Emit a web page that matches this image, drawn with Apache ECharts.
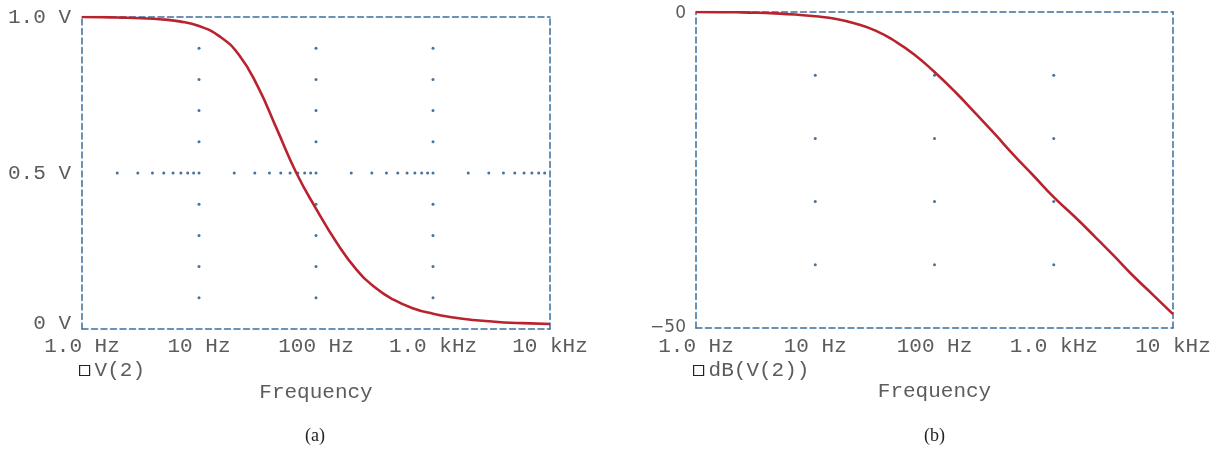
<!DOCTYPE html>
<html>
<head>
<meta charset="utf-8">
<script src="https://cdn.jsdelivr.net/npm/echarts@6/dist/echarts.min.js"></script>
<style>
html,body{margin:0;padding:0;background:#fff;}
#chart{width:1225px;height:452px;}
</style>
</head>
<body>
<div id="chart"></div>
<script>
// ---- data ----
const freqHz = [1, 1.5, 2.2, 3.2, 4.6, 6.8, 10, 15, 22, 32, 46, 68, 100, 150, 220, 320, 460, 680, 1000, 1500, 2200, 3200, 4600, 6800, 10000];
const vMag   = [1.0, 0.9995, 0.998, 0.996, 0.993, 0.986, 0.971, 0.938, 0.878, 0.775, 0.643, 0.50, 0.386, 0.277, 0.192, 0.133, 0.094, 0.066, 0.049, 0.037, 0.029, 0.024, 0.020, 0.018, 0.016];
const vDb    = [0, -0.02, -0.05, -0.11, -0.22, -0.4, -0.68, -1.1, -1.85, -2.95, -4.55, -6.75, -9.5, -12.7, -16.0, -19.3, -22.6, -25.95, -29.3, -32.4, -35.5, -38.6, -41.7, -44.75, -47.8];

const xDecades     = [1, 10, 100, 1000, 10000];
const xTickLabels  = ['1.0 Hz', '10 Hz', '100 Hz', '1.0 kHz', '10 kHz'];
const innerDecades = [10, 100, 1000];
const minorMults   = [2, 3, 4, 5, 6, 7, 8, 9];

const leftYTicks      = [0, 0.5, 1.0];
const leftYTickLabels = ['0 V', '0.5 V', '1.0 V'];
const leftDotRows     = [0.1, 0.2, 0.3, 0.4, 0.5, 0.6, 0.7, 0.8, 0.9];
const leftMinorRow    = 0.5;

const rightYTicks      = [-50, 0];
const rightYTickLabels = ['\u221250', '0'];
const rightDotRows     = [-10, -20, -30, -40];

const seriesNames = ['V(2)', 'dB(V(2))'];
const captions    = ['(a)', '(b)'];
const xAxisTitle  = 'Frequency';

// ---- styles ----
const MONO = "'Courier New', 'Liberation Mono', monospace";
const SANS = "'DejaVu Sans', sans-serif";
const frameColor = '#3d6f9b';
const dotColor = '#1a4f80';
const curveColor = '#b8232e';
const textColor = '#5c5c5c';
const frameLine = { show: true, onZero: false, lineStyle: { color: frameColor, width: 1.5, type: [6, 3.5] } };

// build data pairs
const magData = freqHz.map((f, i) => [f, vMag[i]]);
const dbData  = freqHz.map((f, i) => [f, vDb[i]]);

const leftDots = [];
innerDecades.forEach(d => leftDotRows.forEach(r => leftDots.push([d, r])));
xDecades.slice(0, 4).forEach(d => minorMults.forEach(k => leftDots.push([d * k, leftMinorRow])));
const rightDots = [];
innerDecades.forEach(d => rightDotRows.forEach(r => rightDots.push([d, r])));

function xLabel(v) {
  const i = xDecades.findIndex(d => Math.abs(d - v) < 1e-6 * d);
  return i >= 0 ? xTickLabels[i] : '';
}

const chart = echarts.init(document.getElementById('chart'), null, { renderer: 'canvas' });

const xAxisBase = (grid, margin) => ({
  type: 'log', logBase: 10, min: 1, max: 10000, gridIndex: grid,
  axisLine: frameLine,
  axisTick: { show: false },
  splitLine: { show: false },
  minorTick: { show: false },
  axisLabel: { formatter: xLabel, fontFamily: MONO, fontSize: 21, color: textColor, margin: margin, showMinLabel: true, showMaxLabel: true },
  name: xAxisTitle, nameLocation: 'middle', nameGap: 53,
  nameTextStyle: { fontFamily: MONO, fontSize: 21, color: textColor }
});

const topAxis = (grid) => ({
  type: 'value', min: 0, max: 1, gridIndex: grid, position: 'top',
  axisLine: frameLine, axisTick: { show: false }, axisLabel: { show: false }, splitLine: { show: false }
});
const rightAxis = (grid) => ({
  type: 'value', min: 0, max: 1, gridIndex: grid, position: 'right',
  axisLine: frameLine, axisTick: { show: false }, axisLabel: { show: false }, splitLine: { show: false }
});

const option = {
  backgroundColor: '#fff',
  animation: false,
  grid: [
    { left: 82, top: 17, width: 468, height: 312 },
    { left: 696, top: 12, width: 477, height: 316 }
  ],
  xAxis: [
    xAxisBase(0, 7),
    xAxisBase(1, 8),
    topAxis(0),
    topAxis(1)
  ],
  yAxis: [
    {
      type: 'value', gridIndex: 0, min: leftYTicks[0], max: leftYTicks[2], interval: 0.5,
      axisLine: frameLine, axisTick: { show: false }, splitLine: { show: false },
      axisLabel: {
        fontFamily: MONO, fontSize: 21, color: textColor, margin: 11,
        formatter: v => {
          const i = leftYTicks.findIndex(t => Math.abs(t - v) < 1e-9);
          const s = i >= 0 ? leftYTickLabels[i] : '';
          return v === 0 ? '{low|' + s + '}' : s;
        },
        rich: { low: { fontFamily: MONO, fontSize: 21, color: textColor, padding: [0, 0, 12, 0] } }
      }
    },
    {
      type: 'value', gridIndex: 1, min: -50, max: 0, interval: 50,
      axisLine: frameLine, axisTick: { show: false }, splitLine: { show: false },
      axisLabel: {
        fontFamily: SANS, fontSize: 17, color: textColor, margin: 10,
        formatter: v => {
          const i = rightYTicks.findIndex(t => Math.abs(t - v) < 1e-9);
          const s = i >= 0 ? rightYTickLabels[i] : '';
          return v === 0 ? '{hi|' + s + '}' : s;
        },
        rich: { hi: { fontFamily: SANS, fontSize: 17, color: textColor, padding: [4, 0, 0, 0] } }
      }
    },
    rightAxis(0),
    rightAxis(1)
  ],
  legend: [
    {
      data: [seriesNames[0]], left: 79, top: 360, padding: 0,
      icon: 'rect', itemWidth: 10, itemHeight: 10,
      itemStyle: { color: '#fff', borderColor: '#222', borderWidth: 1.2 },
      textStyle: { fontFamily: MONO, fontSize: 21, color: textColor }
    },
    {
      data: [seriesNames[1]], left: 693, top: 360, padding: 0,
      icon: 'rect', itemWidth: 10, itemHeight: 10,
      itemStyle: { color: '#fff', borderColor: '#222', borderWidth: 1.2 },
      textStyle: { fontFamily: MONO, fontSize: 21, color: textColor }
    }
  ],
  graphic: [
    { type: 'text', left: 305, top: 427, style: { text: captions[0], font: "18px 'Liberation Serif', serif", fill: '#222' } },
    { type: 'text', left: 924, top: 427, style: { text: captions[1], font: "18px 'Liberation Serif', serif", fill: '#222' } }
  ],
  series: [
    {
      type: 'scatter', xAxisIndex: 0, yAxisIndex: 0, data: leftDots, symbolSize: 3,
      itemStyle: { color: dotColor }, silent: true, z: 1
    },
    {
      type: 'scatter', xAxisIndex: 1, yAxisIndex: 1, data: rightDots, symbolSize: 3,
      itemStyle: { color: dotColor }, silent: true, z: 1
    },
    {
      name: seriesNames[0], type: 'line', xAxisIndex: 0, yAxisIndex: 0, data: magData,
      smooth: 0.5, showSymbol: false, symbol: 'none',
      lineStyle: { color: curveColor, width: 2.6 }, itemStyle: { color: curveColor }, z: 5
    },
    {
      name: seriesNames[1], type: 'line', xAxisIndex: 1, yAxisIndex: 1, data: dbData,
      smooth: 0.5, showSymbol: false, symbol: 'none',
      lineStyle: { color: curveColor, width: 2.6 }, itemStyle: { color: curveColor }, z: 5
    }
  ]
};
chart.setOption(option);
</script>
</body>
</html>
